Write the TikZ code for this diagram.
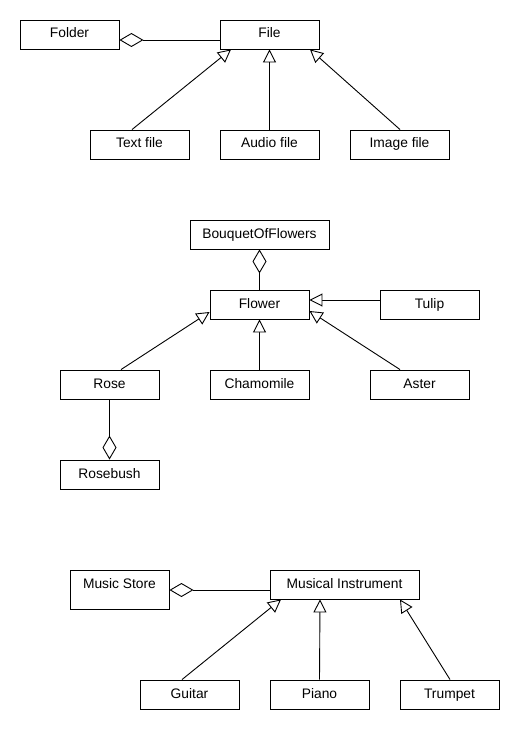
\documentclass[tikz,border=0pt]{standalone}
\usepackage{fontspec}
\setmainfont{Liberation Sans}
\usetikzlibrary{arrows.meta}
\begin{document}
\begin{tikzpicture}[x=1pt,y=-1pt,
  cls/.style={draw, line width=0.9pt, minimum width=99pt, minimum height=29pt, inner sep=0pt,
    text height=10pt, text depth=3pt, font=\fontsize{13.8}{16}\selectfont},
  gen/.style={draw, line width=0.9pt, -{Triangle[open, length=13pt, width=13pt, fill=white]}},
  agg/.style={draw, line width=0.9pt, {Diamond[open, length=24pt, width=14pt, fill=white]}-}
]
\useasboundingbox (0,0) rectangle (520,730);
\fill[white] (0,0) rectangle (520,730);
% top
\node[cls] (folder) at (69.5,34.5) {Folder};
\node[cls] (file) at (269.5,34.5) {File};
\node[cls] (textfile) at (139.5,144.5) {Text file};
\node[cls] (audiofile) at (269.5,144.5) {Audio file};
\node[cls] (imagefile) at (399.5,144.5) {Image file};
\draw[agg] ([yshift=-5.5pt]folder.east) -- ([yshift=-5.5pt]file.west);
\draw[gen] ([xshift=-7.5pt]textfile.north) -- ([xshift=-38.5pt]file.south);
\draw[gen] (audiofile.north) -- (file.south);
\draw[gen] ([xshift=0.5pt]imagefile.north) -- ([xshift=40.5pt]file.south);
% middle
\node[cls, minimum width=139pt] (bouquet) at (259.5,234.5) {BouquetOfFlowers};
\node[cls] (flower) at (259.5,304.5) {Flower};
\node[cls] (tulip) at (429.5,304.5) {Tulip};
\node[cls] (rose) at (109.5,384.5) {Rose};
\node[cls] (chamomile) at (259.5,384.5) {Chamomile};
\node[cls] (aster) at (419.5,384.5) {Aster};
\node[cls] (rosebush) at (109.5,474.5) {Rosebush};
\draw[agg] (bouquet.south) -- (flower.north);
\draw[gen] ([yshift=4.5pt]tulip.west) -- ([yshift=4.5pt]flower.east);
\draw[gen] ([xshift=11.5pt]rose.north) -- ([yshift=-7.5pt]flower.west);
\draw[gen] (chamomile.north) -- (flower.south);
\draw[gen] ([xshift=-19.5pt]aster.north) -- ([yshift=-6.5pt]flower.east);
\draw[agg] (rosebush.north) -- (rose.south);
% bottom
\node[cls, minimum height=39pt, text depth=13pt] (store) at (119.5,589.5) {Music Store};
\node[cls, minimum width=149pt] (instrument) at (344.5,584.5) {Musical Instrument};
\node[cls] (guitar) at (189.5,694.5) {Guitar};
\node[cls] (piano) at (319.5,694.5) {Piano};
\node[cls] (trumpet) at (449.5,694.5) {Trumpet};
\draw[agg] ([yshift=-0.5pt]store.east) -- ([yshift=-5.5pt]instrument.west);
\draw[gen] ([xshift=-7.5pt]guitar.north) -- ([xshift=-63.5pt]instrument.south);
\draw[gen] (piano.north) -- ([xshift=-24.5pt]instrument.south);
\draw[gen] ([xshift=0.5pt]trumpet.north) -- ([xshift=55.5pt]instrument.south);
\end{tikzpicture}
\end{document}
